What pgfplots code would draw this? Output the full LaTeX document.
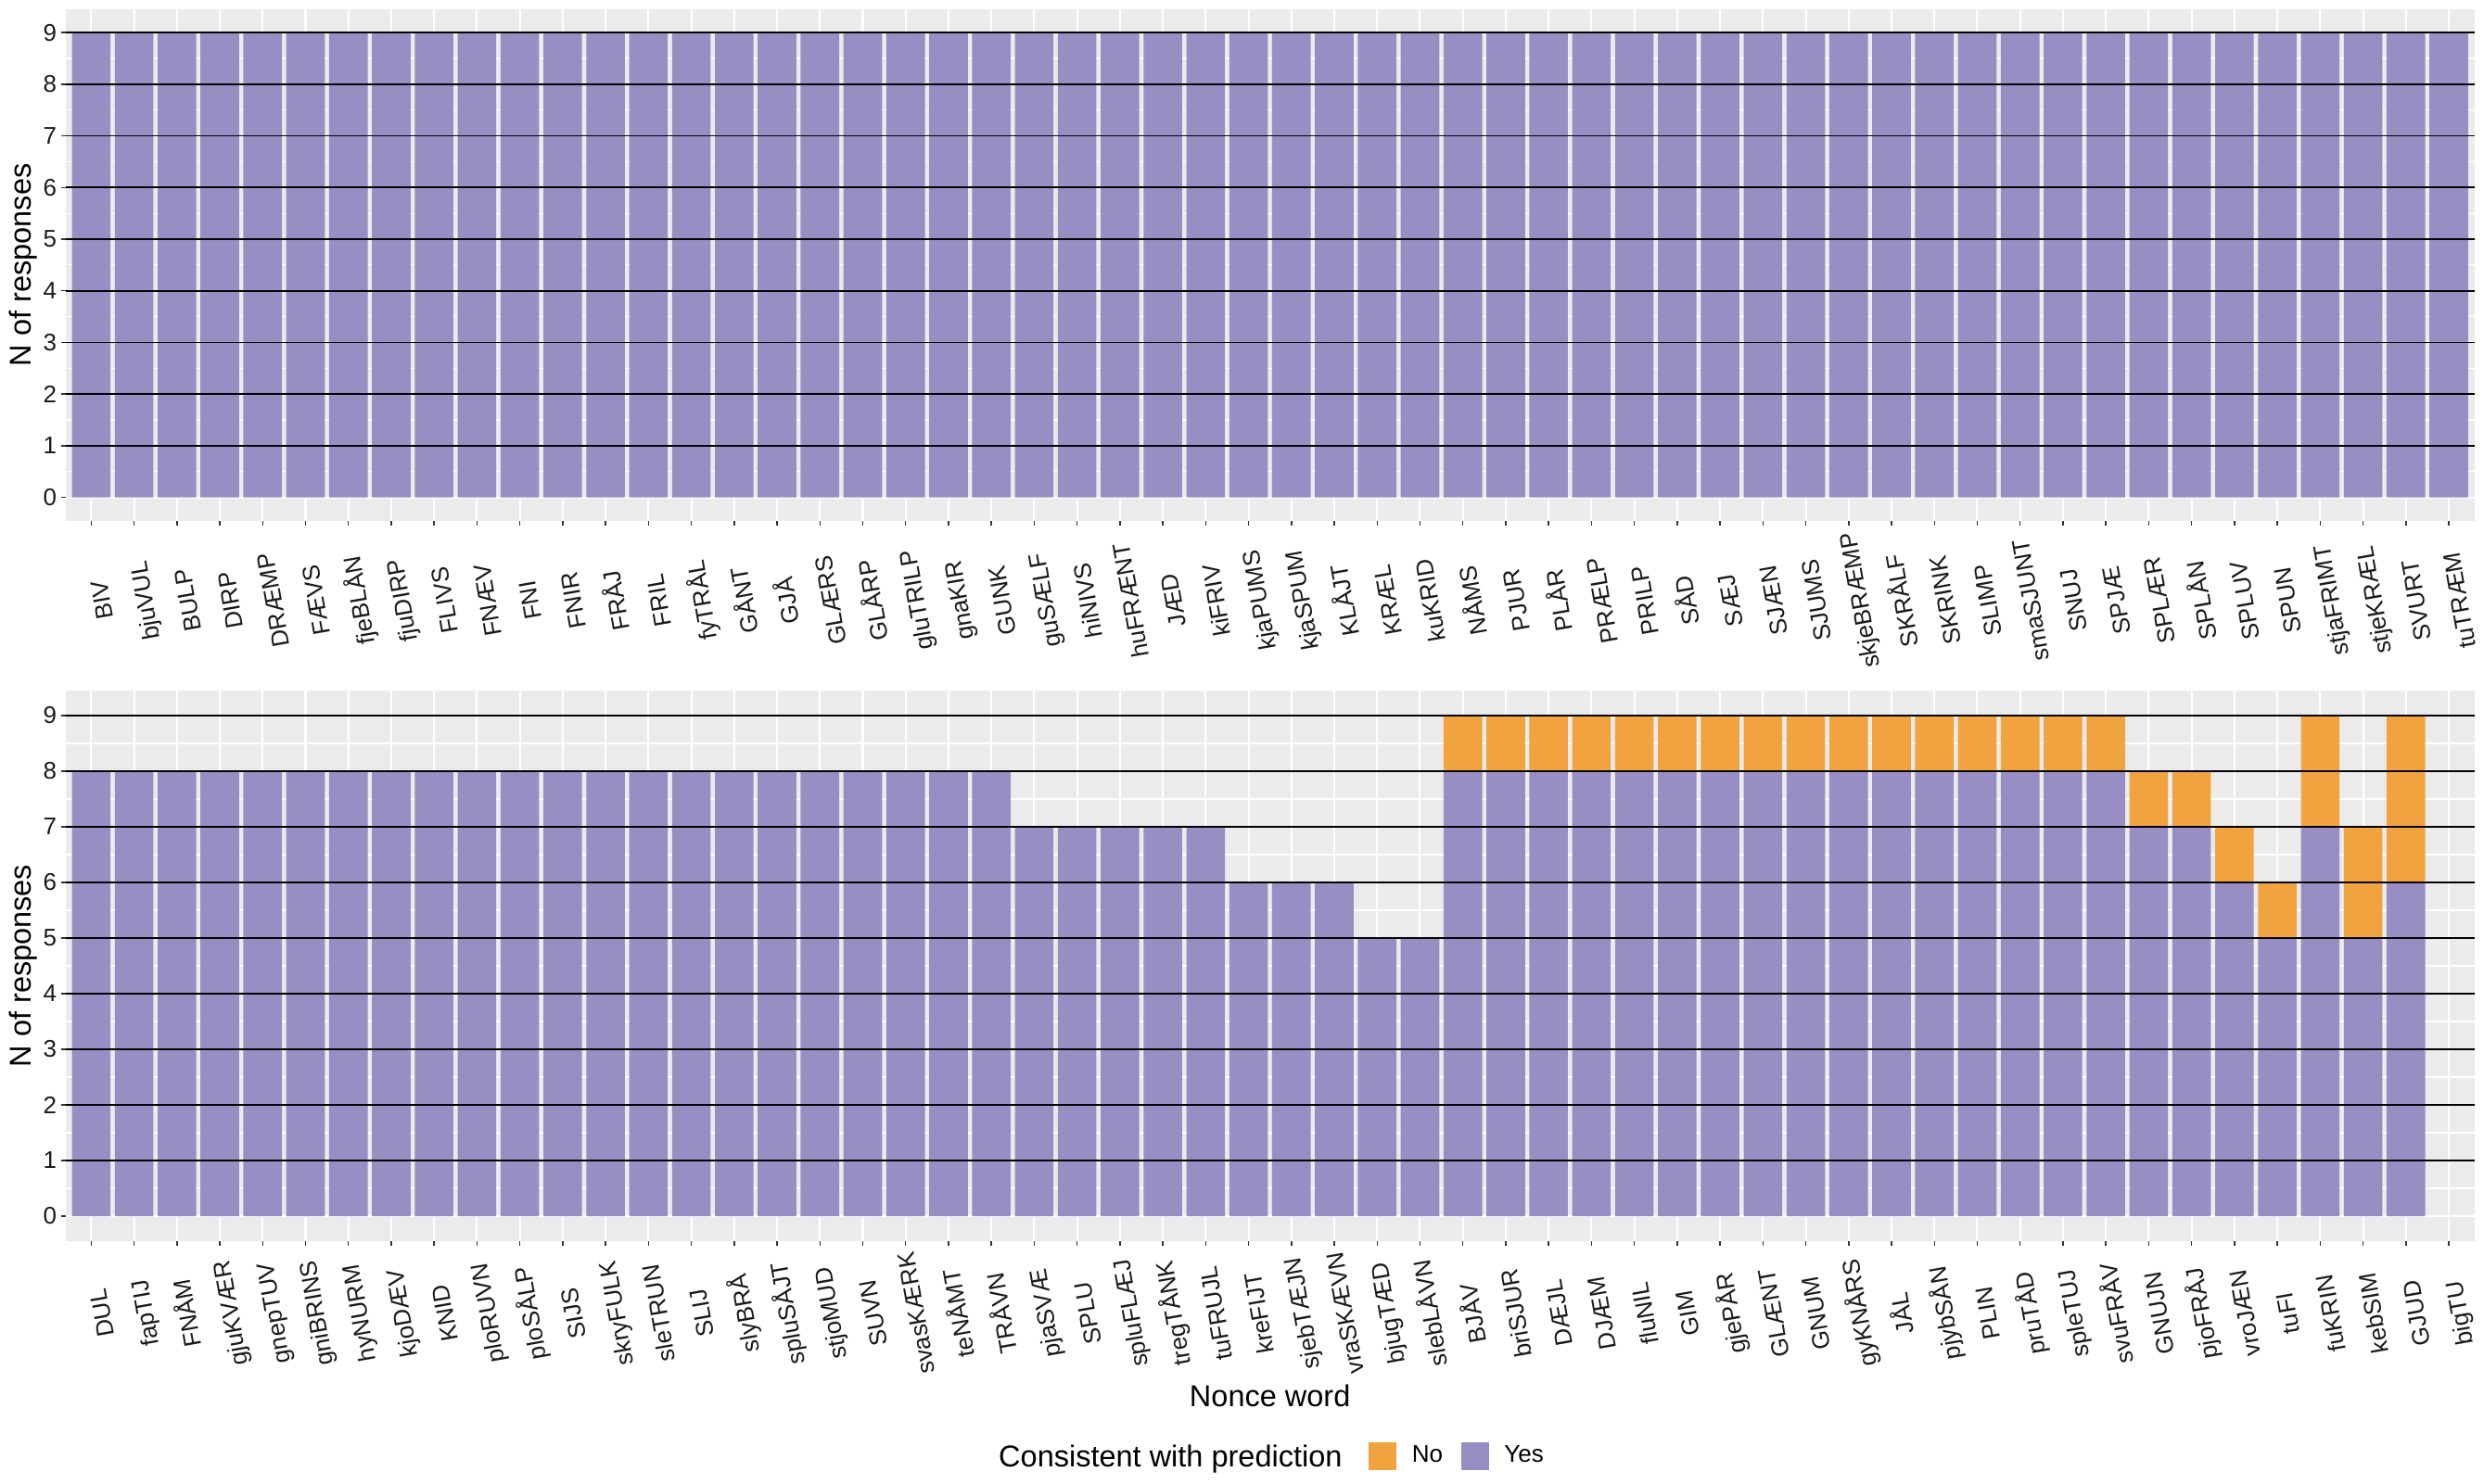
\documentclass[border=0pt]{standalone}
\usepackage{pgfplots}
\pgfplotsset{compat=1.18}
\usepackage{pgfplotstable}
\usepackage{fontspec}
\setmainfont{Liberation Sans}
\definecolor{ggbg}{HTML}{EBEBEB}
\definecolor{ggyes}{HTML}{998EC3}
\definecolor{ggno}{HTML}{F1A340}
\definecolor{ggtext}{HTML}{1A1A1A}
\definecolor{ggtick}{HTML}{333333}

\pgfplotstableread{
x yes
1 9
2 9
3 9
4 9
5 9
6 9
7 9
8 9
9 9
10 9
11 9
12 9
13 9
14 9
15 9
16 9
17 9
18 9
19 9
20 9
21 9
22 9
23 9
24 9
25 9
26 9
27 9
28 9
29 9
30 9
31 9
32 9
33 9
34 9
35 9
36 9
37 9
38 9
39 9
40 9
41 9
42 9
43 9
44 9
45 9
46 9
47 9
48 9
49 9
50 9
51 9
52 9
53 9
54 9
55 9
56 9
}\topdata

\pgfplotstableread{
x yes no
1 8 0
2 8 0
3 8 0
4 8 0
5 8 0
6 8 0
7 8 0
8 8 0
9 8 0
10 8 0
11 8 0
12 8 0
13 8 0
14 8 0
15 8 0
16 8 0
17 8 0
18 8 0
19 8 0
20 8 0
21 8 0
22 8 0
23 7 0
24 7 0
25 7 0
26 7 0
27 7 0
28 6 0
29 6 0
30 6 0
31 5 0
32 5 0
33 8 1
34 8 1
35 8 1
36 8 1
37 8 1
38 8 1
39 8 1
40 8 1
41 8 1
42 8 1
43 8 1
44 8 1
45 8 1
46 8 1
47 8 1
48 8 1
49 7 1
50 7 1
51 6 1
52 5 1
53 7 2
54 5 2
55 6 3
56 0 0
}\botdata

\pgfplotsset{
  ggpanel/.style={
    scale only axis, width=879.36pt, anchor=south west,
    xmin=0.4, xmax=56.6, ymin=-0.45, ymax=9.45,
    enlargelimits=false,
    axis lines*=left, axis line style={draw=none},
    axis background/.style={fill=ggbg},
    xtick={1,...,56}, ytick={0,...,9},
    minor ytick={0.5,1.5,...,8.5},
    xmajorgrids, ymajorgrids, yminorgrids,
    major grid style={white, line width=0.68pt},
    minor grid style={white, line width=0.4pt},
    tick align=outside, major tick length=1.7pt, minor tick length=0pt,
    tick style={ggtick, line width=0.5pt},
    /pgf/number format/assume math mode=true,
    yticklabel style={font=\fontsize{8.8}{10}\selectfont, text=ggtext, inner sep=0pt, anchor=east, xshift=-1.3pt},
    every axis y label/.style={at={(axis description cs:-0.01447,0.5)}, rotate=90, anchor=base, font=\fontsize{11}{13}\selectfont},
    ylabel={N of responses},
  },
  ggxlab/.style={xticklabel style={font=\fontsize{8.8}{10}\selectfont, text=ggtext, inner sep=0pt, text height=6.3pt, text depth=1.86pt, anchor=center, xshift=4.74pt, yshift=#1, rotate=100}},
  ggover/.style={scale only axis, width=879.36pt, anchor=south west, xmin=0.4, xmax=56.6, ymin=-0.45, ymax=9.45, hide axis, clip=false},
}

\begin{document}
\begin{tikzpicture}
\path[use as bounding box] (0pt,0pt) rectangle (906.74pt,541.54pt);

% ---------- top panel ----------
\begin{axis}[ggpanel, at={(23.90pt,351.42pt)}, height=186.73pt,
  ybar stacked, bar width=0.9, ggxlab=-27.3pt,
  xticklabels={BIV, bjuVUL, BULP, DIRP, DRÆMP, FÆVS, fjeBLÅN, fjuDIRP, FLIVS, FNÆV, FNI, FNIR, FRÅJ, FRIL, fyTRÅL, GÅNT, GJÅ, GLÆRS, GLÅRP, gluTRILP, gnaKIR, GUNK, guSÆLF, hiNIVS, huFRÆNT, JÆD, kiFRIV, kjaPUMS, kjaSPUM, KLÅJT, KRÆL, kuKRID, NÅMS, PJUR, PLÅR, PRÆLP, PRILP, SÅD, SÆJ, SJÆN, SJUMS, skjeBRÆMP, SKRÅLF, SKRINK, SLIMP, smaSJUNT, SNUJ, SPJÆ, SPLÆR, SPLÅN, SPLUV, SPUN, stjaFRIMT, stjeKRÆL, SVURT, tuTRÆM}]
\addplot[fill=ggyes, draw=none] table[x=x, y=yes] {\topdata};
\end{axis}
\begin{axis}[ggover, at={(23.90pt,351.42pt)}, height=186.73pt]
\pgfplotsinvokeforeach{1,...,9}{\addplot[black, line width=0.62pt] coordinates {(0.4,#1) (56.6,#1)};}
\end{axis}

% ---------- bottom panel ----------
\begin{axis}[ggpanel, at={(23.90pt,88.34pt)}, height=201.05pt,
  ybar stacked, bar width=0.9, ggxlab=-24.5pt,
  xticklabels={DUL, fapTIJ, FNÅM, gjuKVÆR, gnepTUV, gniBRINS, hyNURM, kjoDÆV, KNID, ploRUVN, ploSÅLP, SIJS, skryFULK, sleTRUN, SLIJ, slyBRÅ, spluSÅJT, stjoMUD, SUVN, svasKÆRK, teNÅMT, TRÅVN, pjaSVÆ, SPLU, spluFLÆJ, tregTÅNK, tuFRUJL, kreFIJT, sjebTÆJN, vraSKÆVN, bjugTÆD, slebLÅVN, BJÅV, briSJUR, DÆJL, DJÆM, fluNIL, GIM, gjePÅR, GLÆNT, GNUM, gyKNÅRS, JÅL, pjybSÅN, PLIN, pruTÅD, spleTUJ, svuFRÅV, GNUJN, pjoFRÅJ, vroJÆN, tuFI, fuKRIN, kebSIM, GJUD, bigTU},
  xlabel={Nonce word},
  every axis x label/.style={at={(axis description cs:0.5,-0.30017)}, anchor=base, font=\fontsize{11}{13}\selectfont},
  legend style={at={(axis description cs:0.5408,-0.3902)}, anchor=west, draw=none, fill=none,
    legend columns=-1, inner sep=0pt, font=\fontsize{8.8}{10}\selectfont,
    nodes={inner sep=0pt}, column sep=0pt,
    /tikz/every odd column/.append style={column sep=5.6pt},
    /tikz/every even column/.append style={column sep=6.6pt}},
  ]
\addplot[fill=ggyes, draw=none, forget plot] table[x=x, y=yes] {\botdata};
\addplot[fill=ggno, draw=none, forget plot] table[x=x, y=no] {\botdata};
\addlegendimage{legend image code/.code={\fill[ggno] (0pt,-4.9pt) rectangle (9.8pt,4.9pt);}}
\addlegendentry{No}
\addlegendimage{legend image code/.code={\fill[ggyes] (0pt,-4.9pt) rectangle (9.8pt,4.9pt);}}
\addlegendentry{Yes}
\end{axis}
\begin{axis}[ggover, at={(23.90pt,88.34pt)}, height=201.05pt]
\pgfplotsinvokeforeach{1,...,9}{\addplot[black, line width=0.62pt] coordinates {(0.4,#1) (56.6,#1)};}
\end{axis}

\node[anchor=base west, inner sep=0pt, font=\fontsize{11}{13}\selectfont] at (364.4pt,5.86pt) {Consistent with prediction};
\end{tikzpicture}
\end{document}
